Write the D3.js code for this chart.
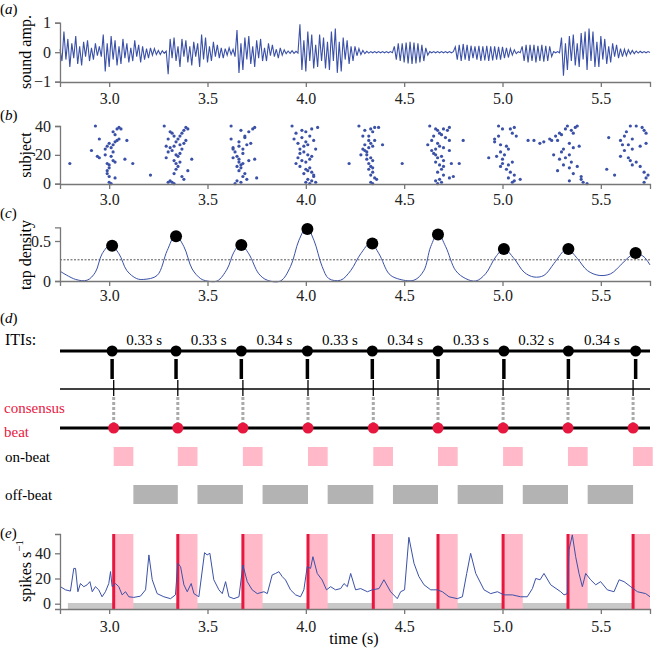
<!DOCTYPE html>
<html><head><meta charset="utf-8">
<script src="https://cdn.jsdelivr.net/npm/d3@7"></script>
<style>
body{margin:0;background:#fff;}
svg{font-family:"Liberation Serif","Times New Roman",serif;}
.axis path,.axis line{stroke:#777;stroke-width:1.3;}
.axis text{font-size:16px;fill:#222;font-family:"Liberation Serif",serif;}
</style></head><body>
<svg id="c" width="657" height="650"></svg>
<script>
// ---------------- DATA ----------------
const timeDomain = [2.75, 5.75];
const xTickValues = [3.0, 3.5, 4.0, 4.5, 5.0, 5.5];
// (a) sound waveform: alternating peak amplitudes, one every 10 ms starting at 2.75 s
const waveStart = 2.75, waveStep = 0.01;
const waveAmp = [
 0.1,-0.3,0.7,-0.25,0.45,-0.5,0.3,-0.2,0.55,-0.4,0.2,-0.45,0.35,-0.15,0.4,-0.3,0.15,-0.25,0.3,-0.12,0.2,-0.15,
 0.6,-0.65,0.3,-0.5,0.55,-0.25,0.4,-0.45,
 0.2,-0.4,0.45,-0.2,0.3,-0.35,0.15,-0.3,0.4,-0.15,0.25,-0.35,0.2,-0.25,0.12,-0.2,0.15,-0.1,0.12,-0.08,0.06,-0.08,
 0.05,-0.04,0.04,
 -0.75,0.45,-0.2,0.5,-0.3,0.2,-0.5,0.45,-0.15,0.4,-0.35,0.2,-0.45,0.35,-0.15,0.3,-0.5,0.6,-0.25,0.5,-0.35,0.2,-0.3,0.35,-0.15,0.25,-0.2,0.15,-0.2,0.12,-0.1,0.15,-0.08,0.1,
 -0.15,0.75,-0.7,0.3,-0.6,0.5,-0.25,0.55,-0.4,0.2,-0.5,0.4,-0.2,0.45,-0.3,0.15,-0.3,0.3,-0.12,0.25,-0.15,0.1,
 -0.2,0.15,-0.1,0.08,-0.05,0.04,-0.04,0.05,-0.04,0.03,-0.03,
 0.95,-0.6,0.4,-0.65,0.7,-0.3,0.6,-0.55,0.25,-0.5,0.6,-0.3,0.5,-0.55,0.35,-0.6,0.7,-0.3,0.8,-0.7,0.35,-0.65,0.5,-0.25,0.4,-0.4,0.2,-0.3,0.2,-0.12,0.12,-0.08,0.06,-0.05,
 0.03,-0.03,0.02,-0.02,0.02,-0.02,0.02,-0.02,0.02,-0.02,0.02,-0.02,0.02,-0.02,
 0.2,-0.25,0.3,-0.3,0.3,-0.35,0.33,-0.38,0.35,-0.4,0.33,-0.38,0.3,-0.35,0.25,-0.3,0.15,-0.1,
 0.02,-0.02,0.02,-0.02,0.02,-0.02,0.02,-0.02,0.02,-0.02,0.02,-0.02,0.02,
 0.18,-0.25,0.25,-0.3,0.28,-0.25,0.25,-0.3,0.22,-0.2,0.2,-0.25,0.22,-0.3,0.2,-0.28,0.22,-0.3,0.2,-0.28,0.2,-0.25,0.18,-0.25,0.18,-0.2,0.15,-0.18,0.12,-0.1,0.08,-0.05,
 0.02,-0.02,
 0.2,-0.3,0.25,-0.35,0.25,-0.3,0.25,-0.35,0.22,-0.3,0.25,-0.32,0.22,-0.3,0.2,-0.15,
 0.02,-0.02,0.02,-0.02,
 0.5,-0.8,0.3,-0.6,0.55,-0.3,0.6,-0.45,0.3,-0.5,0.65,-0.25,0.7,-0.6,0.8,-0.3,0.7,-0.5,0.35,-0.5,0.55,-0.25,0.45,-0.4,0.2,-0.35,0.3,-0.15,0.25,-0.2,0.12,-0.15,0.1,-0.12,0.08,-0.06,0.06,-0.05,0.04,-0.03,0.03,-0.02,0.02,-0.02,0.02,-0.01
];
// (b) taps: [time (s), subject]
const taps = [
 [2.80,14],[3.21,6],
 [2.93,40],[2.95,31],[2.91,23],[2.94,19],[2.95,18],[2.98,24],[3.00,28],[3.02,27],[3.01,25],[3.03,29],[3.04,38],[3.05,39],[3.06,38],[3.03,34],[3.02,36],[3.09,30],[3.04,30],[3.08,17],[3.12,14],[3.00,13],[3.02,16],[3.03,15],[2.99,14],[3.00,11],[2.99,7],[3.00,5],[2.99,9],[3.03,4],[3.00,1],[3.01,0],[2.98,20],[3.02,22],[3.05,31],[2.99,26],[3.01,19],
 [3.28,40],[3.31,36],[3.32,35],[3.30,31],[3.33,33],[3.35,31],[3.29,26],[3.31,25],[3.33,26],[3.36,27],[3.38,28],[3.32,23],[3.30,22],[3.29,18],[3.34,20],[3.36,21],[3.38,37],[3.40,38],[3.37,35],[3.39,30],[3.35,12],[3.34,14],[3.33,16],[3.36,15],[3.42,17],[3.34,10],[3.33,7],[3.37,5],[3.38,3],[3.31,2],[3.32,1],[3.33,0],[3.30,1],[3.37,24],[3.35,19],[3.40,9],[3.36,33],[3.39,39],[3.34,29],
 [3.62,40],[3.62,31],[3.63,25],[3.64,22],[3.63,18],[3.65,19],[3.66,17],[3.68,24],[3.70,27],[3.72,28],[3.69,32],[3.71,36],[3.73,38],[3.74,39],[3.67,37],[3.69,33],[3.66,26],[3.67,13],[3.65,12],[3.68,14],[3.66,15],[3.67,11],[3.66,9],[3.69,7],[3.68,5],[3.65,2],[3.67,1],[3.64,0],[3.74,17],[3.75,4],[3.70,3],[3.66,29],[3.68,21],[3.71,16],[3.63,24],
 [3.93,40],[3.95,35],[3.94,31],[3.98,37],[4.00,36],[4.03,38],[4.06,39],[4.02,33],[4.04,30],[4.01,27],[3.99,26],[4.00,29],[3.97,24],[3.99,22],[4.01,20],[4.03,19],[3.96,18],[3.98,16],[4.00,15],[3.95,14],[3.97,12],[4.02,11],[4.00,10],[4.01,9],[4.03,8],[3.99,7],[4.04,5],[4.01,3],[4.03,2],[4.00,1],[4.02,0],[4.05,1],[4.04,6],[3.96,28],[3.98,32],[4.05,24],[4.02,17],[3.97,21],
 [4.22,14],[4.49,14],
 [4.27,40],[4.30,37],[4.33,38],[4.35,39],[4.37,39],[4.34,36],[4.29,33],[4.32,33],[4.35,30],[4.32,30],[4.39,27],[4.30,27],[4.34,26],[4.29,24],[4.30,23],[4.28,20],[4.31,20],[4.33,18],[4.31,17],[4.34,16],[4.32,14],[4.33,12],[4.34,11],[4.32,10],[4.34,8],[4.33,6],[4.35,4],[4.33,1],[4.34,0],[4.36,3],[4.31,22],[4.33,28],[4.32,25],
 [4.63,40],[4.66,38],[4.67,37],[4.70,38],[4.73,39],[4.72,37],[4.68,35],[4.69,34],[4.65,33],[4.71,32],[4.73,30],[4.64,30],[4.62,27],[4.67,28],[4.68,26],[4.66,24],[4.70,25],[4.73,23],[4.65,21],[4.66,20],[4.69,19],[4.67,18],[4.70,16],[4.74,14],[4.66,15],[4.68,13],[4.70,12],[4.69,10],[4.67,8],[4.70,6],[4.73,4],[4.75,5],[4.68,3],[4.66,2],[4.69,1],[4.67,0],[4.80,30],[4.78,14],[4.64,23],
 [4.98,40],[5.00,38],[5.04,38],[5.06,39],[5.05,35],[5.07,33],[4.96,31],[4.96,29],[4.99,27],[5.02,26],[5.03,24],[4.99,22],[5.01,20],[4.97,19],[4.93,18],[5.00,17],[5.05,15],[5.03,13],[4.99,12],[5.02,10],[5.04,8],[5.06,6],[5.03,4],[5.06,2],[5.05,1],[5.09,3],[5.00,14],[5.13,30],[4.98,33],
 [5.16,30],[5.19,28],[5.21,29],[5.24,31],[5.27,33],[5.29,35],[5.32,38],[5.33,40],[5.35,37],[5.37,39],[5.38,40],[5.36,35],[5.30,34],[5.28,30],[5.34,28],[5.36,25],[5.31,24],[5.30,22],[5.34,20],[5.32,18],[5.26,20],[5.29,17],[5.35,15],[5.31,13],[5.34,11],[5.28,9],[5.38,12],[5.36,7],[5.40,3],[5.41,1],[5.43,0],[5.40,5],[5.25,30],[5.34,2],[5.39,26],
 [5.65,40],[5.68,40],[5.71,39],[5.72,37],[5.73,35],[5.63,36],[5.62,33],[5.66,31],[5.60,30],[5.61,27],[5.64,27],[5.70,26],[5.66,24],[5.62,23],[5.60,19],[5.64,18],[5.65,16],[5.68,15],[5.66,13],[5.70,12],[5.72,8],[5.74,6],[5.73,4],[5.72,1],[5.54,32],[5.53,10],[5.57,6],[5.73,28]
];
// (c) tap density
const densityTimes = [2.752,2.829,2.888,2.93,2.964,3.007,3.05,3.09,3.14,3.176,3.244,3.295,3.337,3.38,3.422,3.465,3.498,3.549,3.60,3.634,3.668,3.71,3.761,3.804,3.871,3.922,3.965,4.004,4.041,4.083,4.117,4.177,4.228,4.279,4.33,4.372,4.423,4.465,4.55,4.60,4.635,4.672,4.711,4.762,4.813,4.864,4.914,4.965,5.008,5.059,5.11,5.16,5.211,5.262,5.313,5.333,5.381,5.432,5.491,5.55,5.601,5.643,5.677,5.72,5.75];
const densityValues = [0.12,0.02,0.01,0.11,0.34,0.45,0.34,0.13,0.03,0.02,0.07,0.38,0.57,0.43,0.15,0.03,0.0,0.0,0.15,0.36,0.46,0.34,0.09,0.01,0.0,0.18,0.51,0.67,0.51,0.18,0.03,0.01,0.13,0.34,0.475,0.34,0.09,0.03,0.01,0.13,0.43,0.59,0.43,0.13,0.03,0.0,0.09,0.30,0.40,0.28,0.11,0.05,0.07,0.22,0.38,0.40,0.28,0.13,0.07,0.09,0.20,0.30,0.35,0.30,0.20];
const densityThreshold = 0.265;
const peakValues = [0.44,0.56,0.45,0.65,0.47,0.58,0.40,0.40,0.35];
// (d) beats
const tapBeats = [3.015,3.340,3.672,4.008,4.338,4.672,5.007,5.335,5.677];
const itiLabels = ["0.33 s","0.33 s","0.34 s","0.33 s","0.34 s","0.33 s","0.32 s","0.34 s"];
const consensusBeats = [3.023,3.349,3.680,4.011,4.343,4.672,5.003,5.333,5.664];
const onBeatWidth = 0.1;
const offBarStart = 2.79;
// (e) spike rate
const spikeTimes = [2.752,2.778,2.803,2.820,2.829,2.841,2.854,2.871,2.888,2.902,2.914,2.930,2.947,2.964,2.981,2.998,3.007,3.015,3.032,3.049,3.066,3.083,3.100,3.125,3.159,3.185,3.202,3.219,3.244,3.278,3.312,3.337,3.349,3.363,3.380,3.397,3.417,3.431,3.456,3.485,3.498,3.512,3.532,3.558,3.575,3.592,3.609,3.634,3.660,3.680,3.702,3.727,3.753,3.787,3.804,3.829,3.846,3.863,3.880,3.897,3.922,3.948,3.973,3.990,4.007,4.024,4.036,4.058,4.083,4.105,4.126,4.151,4.177,4.194,4.211,4.228,4.253,4.279,4.313,4.338,4.372,4.397,4.431,4.465,4.482,4.502,4.524,4.550,4.575,4.601,4.635,4.669,4.694,4.728,4.770,4.796,4.818,4.838,4.864,4.906,4.940,4.974,5.008,5.050,5.092,5.126,5.152,5.169,5.191,5.211,5.245,5.296,5.313,5.330,5.338,5.355,5.372,5.389,5.406,5.423,5.448,5.474,5.499,5.533,5.567,5.593,5.618,5.652,5.686,5.728,5.750];
const spikeRates = [13.5,11,10,28,28,9.5,16,13.5,15,17.5,9.5,13.5,11,5.5,9.5,16,25.5,13.5,16,13.5,7,9.5,5.5,5,6,11,38.7,19,8,5.5,4,7,32,29.4,15,9.5,16,8,5.5,40.5,38.7,40,19,11,8,17.5,5.5,4,5.5,30.7,17.5,11,8,9.5,8,22.8,24,25.4,21.5,18.8,11,7,5.5,11,29.4,28,37.3,24,18.8,11,13.5,11,12,16,13.5,24,11,12,9.5,11,12,19,9.5,4,9.5,11,52.7,32,21.5,15,11,11,9.5,5.5,4,5.5,24,40,24,11,8,9.5,7,7,5.5,5.5,12,20,19,24,15,9.5,7,8,42.6,54.6,37.3,24,13.5,24,19,15,17.5,11,9.5,19,17.5,13.5,9.5,8,5.5,7];

// ---------------- DRAW ----------------
const svg = d3.select("#c");
const blue = "#3b51a8", red = "#e8173f", pink = "#ffb9c8", offGray = "#b3b3b3";
const x = d3.scaleLinear().domain(timeDomain).range([60, 650]);

function xAxis(yPos, pad){
  return svg.append("g").attr("class","axis").attr("transform",`translate(0,${yPos})`)
    .call(d3.axisBottom(x).tickValues(xTickValues).tickFormat(d3.format(".1f")).tickSizeOuter(0).tickSize(5).tickPadding(pad));
}
function yAxis(scale, ticks, fmt){
  svg.append("g").attr("class","axis").attr("transform","translate(60,0)")
    .call(d3.axisLeft(scale).tickValues(ticks).tickFormat(fmt).tickSizeOuter(0).tickSize(5).tickPadding(4));
}
function yLabel(txt, cy){
  svg.append("text").attr("transform",`translate(25,${cy}) rotate(-90)`).attr("text-anchor","middle")
    .attr("dominant-baseline","central").style("font-size","16px").text(txt);
}
function panelLetter(l, y){
  const t = svg.append("text").attr("x",0).attr("y",y).style("font-size","15px");
  t.append("tspan").text("(");
  t.append("tspan").style("font-style","italic").text(l);
  t.append("tspan").text(")");
}

// (a)
const ya = d3.scaleLinear().domain([-1,1]).range([81.7,22.7]);
const wavePts = waveAmp.map((v,i)=>[waveStart + i*waveStep, v]);
svg.append("path").datum(wavePts).attr("fill","none").attr("stroke",blue).attr("stroke-width",1.1)
  .attr("d", d3.line().x(d=>x(d[0])).y(d=>ya(d[1])));
xAxis(82, 6); yAxis(ya, [-1,0,1], d3.format("")); yLabel("sound amp.", 52); panelLetter("a", 14);

// (b)
const yb = d3.scaleLinear().domain([0,40]).range([183.7,126]);
svg.append("g").selectAll("circle").data(taps).join("circle")
  .attr("cx",d=>x(d[0])).attr("cy",d=>yb(d[1])).attr("r",1.6).attr("fill",blue);
xAxis(184, 5); yAxis(yb, [0,20,40], d3.format("")); yLabel("subject", 155); panelLetter("b", 120);

// (c)
const yc = d3.scaleLinear().domain([0,0.67]).range([281,227.4]);
svg.append("line").attr("x1",x(timeDomain[0])).attr("x2",x(timeDomain[1]))
  .attr("y1",yc(densityThreshold)).attr("y2",yc(densityThreshold))
  .attr("stroke","#555").attr("stroke-width",1).attr("stroke-dasharray","2,1.5");
svg.append("path").datum(densityTimes.map((t,i)=>[t,densityValues[i]])).attr("fill","none")
  .attr("stroke",blue).attr("stroke-width",1)
  .attr("d", d3.line().curve(d3.curveCatmullRom).x(d=>x(d[0])).y(d=>yc(d[1])));
svg.append("g").selectAll("circle").data(tapBeats).join("circle")
  .attr("cx",d=>x(d)).attr("cy",(d,i)=>yc(peakValues[i])).attr("r",6).attr("fill","#000");
xAxis(281, 4); yAxis(yc, [0,0.5], d3.format("")); yLabel("tap density", 255); panelLetter("c", 218);

// (d)
panelLetter("d", 323);
svg.append("text").attr("x",5).attr("y",345).style("font-size","16px").text("ITIs:");
svg.append("line").attr("x1",60).attr("x2",650).attr("y1",351).attr("y2",351).attr("stroke","#000").attr("stroke-width",3);
svg.append("g").selectAll("text").data(itiLabels).join("text")
  .attr("x",(d,i)=>(x(tapBeats[i])+x(tapBeats[i+1]))/2).attr("y",344.5).attr("text-anchor","middle")
  .style("font-size","15px").text(d=>d);
svg.append("g").selectAll("circle").data(tapBeats).join("circle")
  .attr("cx",d=>x(d)).attr("cy",351).attr("r",5.5).attr("fill","#000");
svg.append("g").selectAll("line").data(tapBeats).join("line")
  .attr("x1",d=>x(d)).attr("x2",d=>x(d)).attr("y1",359).attr("y2",379).attr("stroke","#000").attr("stroke-width",3.5);
svg.append("line").attr("x1",60).attr("x2",650).attr("y1",389).attr("y2",389).attr("stroke","#000").attr("stroke-width",1.5);
svg.append("g").selectAll("line").data(consensusBeats).join("line")
  .attr("x1",d=>x(d)).attr("x2",d=>x(d)).attr("y1",380).attr("y2",396).attr("stroke","#000").attr("stroke-width",1.3);
svg.append("g").selectAll("line").data(consensusBeats).join("line")
  .attr("x1",d=>x(d)).attr("x2",d=>x(d)).attr("y1",397).attr("y2",424).attr("stroke","#aaa").attr("stroke-width",3).attr("stroke-dasharray","3,2");
svg.append("line").attr("x1",60).attr("x2",650).attr("y1",428).attr("y2",428).attr("stroke","#000").attr("stroke-width",3);
svg.append("g").selectAll("circle").data(consensusBeats).join("circle")
  .attr("cx",d=>x(d)).attr("cy",428).attr("r",5.5).attr("fill",red);
svg.append("text").attr("x",4).attr("y",413).style("font-size","15px").attr("fill",red).text("consensus");
svg.append("text").attr("x",4).attr("y",437).style("font-size","15px").attr("fill",red).text("beat");
svg.append("text").attr("x",5).attr("y",461.5).style("font-size","15px").text("on-beat");
svg.append("text").attr("x",5).attr("y",500).style("font-size","15px").text("off-beat");
svg.append("g").selectAll("rect").data(consensusBeats).join("rect")
  .attr("x",d=>x(d)).attr("width",d=>x(d+onBeatWidth)-x(d)).attr("y",447).attr("height",19).attr("fill",pink);
svg.append("g").selectAll("rect").data(consensusBeats.slice(0,-1)).join("rect")
  .attr("x",d=>x(d+onBeatWidth)).attr("width",(d,i)=>x(consensusBeats[i+1])-x(d+onBeatWidth)).attr("y",485).attr("height",19).attr("fill",offGray);

// (e)
const ye = d3.scaleLinear().domain([-4.2,55.3]).range([609,534]);
panelLetter("e", 538);
svg.append("rect").attr("x",x(offBarStart)).attr("width",x(timeDomain[1])-x(offBarStart)).attr("y",603).attr("height",6).attr("fill","#c8c8c8");
svg.append("g").selectAll("rect").data(consensusBeats).join("rect")
  .attr("x",d=>x(d)).attr("width",d=>Math.min(x(d+onBeatWidth),650)-x(d)).attr("y",534).attr("height",75).attr("fill",pink);
svg.append("g").selectAll("line").data(consensusBeats).join("line")
  .attr("x1",d=>x(d)).attr("x2",d=>x(d)).attr("y1",534).attr("y2",609).attr("stroke",red).attr("stroke-width",3);
svg.append("path").datum(spikeTimes.map((t,i)=>[t,spikeRates[i]])).attr("fill","none")
  .attr("stroke",blue).attr("stroke-width",1)
  .attr("d", d3.line().x(d=>x(d[0])).y(d=>ye(d[1])));
xAxis(609, 7); yAxis(ye, [0,20,40], d3.format(""));
const sl = svg.append("text").attr("transform","translate(25,571) rotate(-90)").attr("text-anchor","middle")
  .attr("dominant-baseline","central").style("font-size","16px");
sl.append("tspan").text("spikes s");
sl.append("tspan").attr("baseline-shift","super").style("font-size","11px").text("−1");
svg.append("text").attr("x",354).attr("y",644).attr("text-anchor","middle").style("font-size","16px").text("time (s)");
</script></body></html>
